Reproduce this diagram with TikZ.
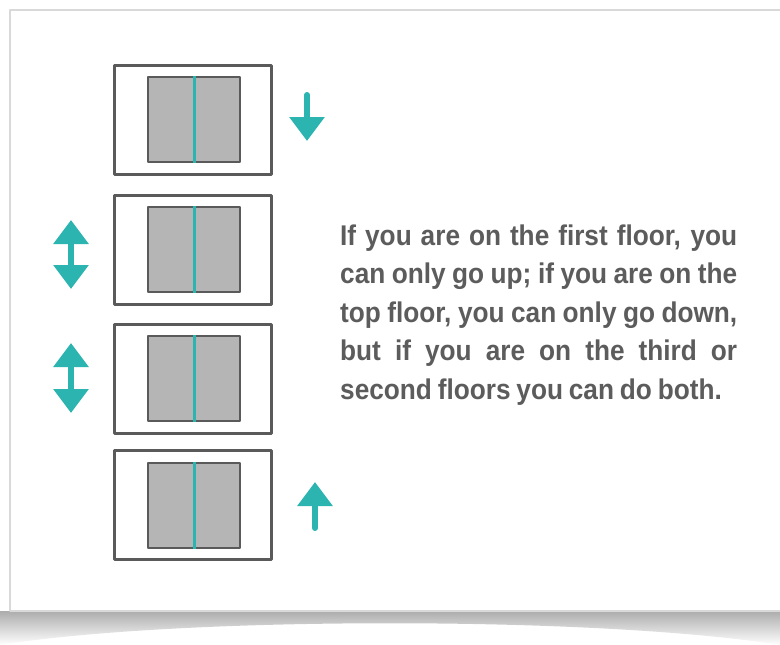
\documentclass[tikz,border=0pt]{standalone}
\usepackage{fontspec}
\newfontfamily\notefont[FakeStretch=0.92, WordSpace=0.8]{Liberation Sans}
\usetikzlibrary{arrows.meta}
\definecolor{liftteal}{HTML}{2BB4B0}
\definecolor{wallgray}{HTML}{5A5A5A}
\definecolor{doorgray}{HTML}{B5B5B5}
\definecolor{notegray}{HTML}{5C5C5C}
\tikzset{
  cabin/.style={draw=wallgray, line width=3pt, fill=white, minimum width=157pt, minimum height=109pt, inner sep=0pt},
  door/.style={draw=wallgray, line width=2pt, fill=doorgray, minimum width=92pt, minimum height=85pt, inner sep=0pt},
  seam/.style={draw=liftteal, line width=3pt},
  lift/.style={draw=liftteal, line width=6pt, line cap=round}
}
\begin{document}
\begin{tikzpicture}[x=1pt, y=-1pt, line join=round]
	\useasboundingbox (0,0) rectangle (780,645);
	
	% card and its shadow
	\shade[top color=gray!65, bottom color=white] (0,611) -- (780,611) -- (780,645) .. controls (600,616) and (180,616) .. (0,645) -- cycle;
	\filldraw[fill=white, draw=gray!30, line width=1.5pt] (10,10) rectangle (795,611);
	
	% the four floors
	\foreach \n/\y in {4/119.5, 3/249.5, 2/378.5, 1/505}{
		\node[cabin] (f\n) at (192.5,\y) {};
		\node[door] (d\n) at (194,\y) {};
		\draw[seam] (d\n.north) -- (d\n.south);
	}
	
	\coordinate (top1) at (307,95);
	\coordinate (top2) at (307,141);
	\coordinate (mid3a) at (71,220);
	\coordinate (mid3b) at (71,289);
	\coordinate (mid2a) at (71,343);
	\coordinate (mid2b) at (71,413);
	\coordinate (low1) at (315,528);
	\coordinate (low2) at (315,482);
	
	\draw[lift, -{Triangle[width=34pt, length=24pt]}] (top1) -- (top2);
	\draw[lift, {Triangle[width=34pt, length=24pt]}-{Triangle[width=34pt, length=24pt]}] (mid3a) -- (mid3b);
	\draw[lift, {Triangle[width=34pt, length=24pt]}-{Triangle[width=34pt, length=24pt]}] (mid2a) -- (mid2b);
	\draw[lift, -{Triangle[width=34pt, length=24pt]}] (low1) -- (low2);
	
	\node[anchor=base west, inner sep=0pt, text width=397pt, align=justify, text=notegray,
	      font=\notefont\bfseries\fontsize{28.5}{38.5}\selectfont] (note) at (340,245)
	  {If you are on the first floor, you\linebreak can only go up; if you are on the\linebreak top floor, you can only go down,\linebreak but if you are on the third or\linebreak second floors you can do both.};
\end{tikzpicture}
\end{document}
